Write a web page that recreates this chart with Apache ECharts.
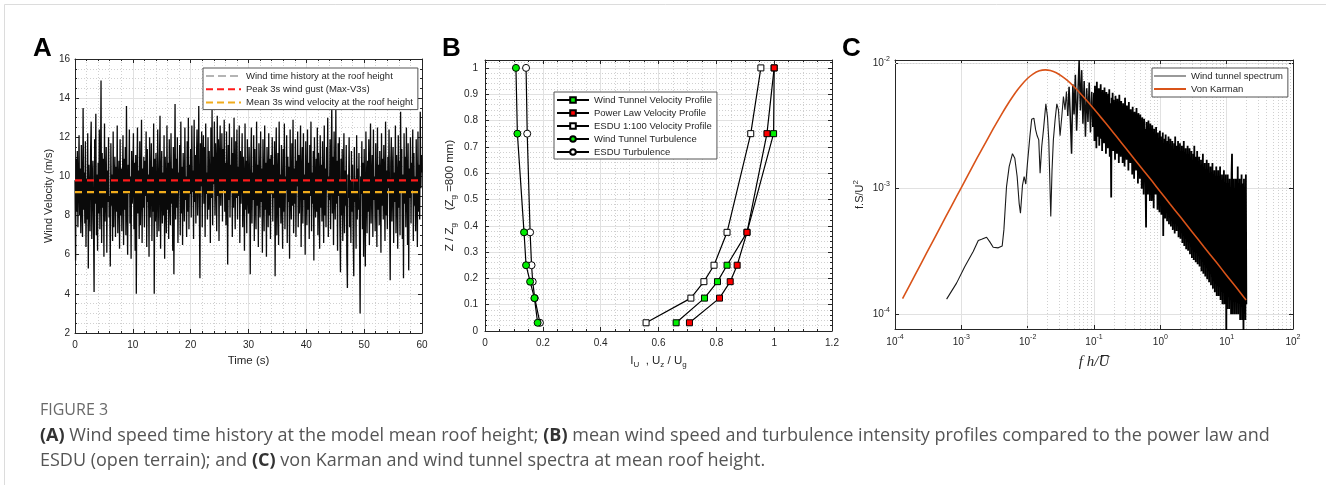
<!DOCTYPE html>
<html>
<head>
<meta charset="utf-8">
<script src="https://cdn.jsdelivr.net/npm/echarts@6/dist/echarts.min.js"></script>
<style>
  html, body { margin: 0; padding: 0; background: #fff; }
  #chart { width: 1326px; height: 485px; }
</style>
</head>
<body>
<div id="chart"></div>
<script>
// ---------- (A) wind time history at roof height ----------
const timeStep = 0.1; // seconds between samples
const windVelocity = [
  9.8, 5.7, 10.9, 8.2, 11.3, 7.4, 9.6, 12.1, 8.0, 10.4, 7.1, 11.6, 8.8, 6.9, 13.5, 8.3, 10.2, 7.6, 11.8, 6.4,
  9.9, 7.8, 12.2, 5.3, 10.6, 8.9, 7.2, 11.4, 12.8, 6.8, 9.7, 10.8, 7.5, 4.1, 11.9, 8.6, 13.2, 7.0, 10.1, 6.2,
  10.7, 8.1, 12.4, 7.3, 9.5, 14.9, 6.6, 11.2, 8.4, 10.9, 5.9, 12.7, 7.7, 9.2, 11.5, 6.1, 10.3, 8.7, 12.0, 7.9,
  9.0, 5.4, 11.7, 8.5, 10.1, 6.7, 12.3, 7.4, 9.8, 11.0, 6.9, 10.5, 8.2, 12.6, 7.1, 9.4, 10.8, 6.3, 11.9, 8.0,
  10.4, 7.2, 9.7, 12.1, 6.5, 10.9, 8.3, 11.5, 7.0, 13.6, 8.8, 6.0, 10.6, 9.1, 12.4, 7.6, 10.0, 5.8, 11.3, 8.6,
  9.5, 12.2, 7.3, 10.7, 6.2, 11.1, 4.0, 9.9, 12.5, 8.1, 10.3, 6.8, 11.8, 7.5, 9.3, 12.9, 6.6, 10.4, 8.4, 11.0,
  7.4, 10.8, 9.0, 12.3, 6.4, 11.4, 8.7, 10.1, 5.9, 12.0, 7.9, 9.6, 11.7, 6.7, 10.5, 8.2, 12.7, 4.0, 10.9, 7.7,
  11.2, 8.5, 6.9, 12.4, 9.4, 7.2, 10.6, 13.1, 6.3, 9.9, 11.3, 7.6, 10.2, 8.0, 12.1, 5.8, 11.0, 9.2, 7.1, 12.6,
  8.3, 10.7, 6.8, 11.9, 9.0, 7.5, 12.2, 8.6, 10.4, 6.2, 11.5, 5.0, 9.7, 13.7, 7.8, 10.9, 8.4, 12.0, 6.6, 10.2,
  9.3, 11.6, 7.0, 12.8, 8.1, 10.5, 6.5, 11.2, 9.6, 7.7, 12.5, 8.8, 10.0, 6.9, 11.8, 8.2, 13.0, 7.3, 10.6, 9.1,
  11.4, 7.9, 12.6, 9.2, 10.3, 6.8, 12.9, 8.7, 11.1, 7.6, 10.8, 12.4, 8.0, 9.9, 13.6, 8.4, 4.8, 11.7, 9.5, 12.3,
  7.4, 10.9, 12.1, 8.6, 11.5, 6.9, 12.7, 9.1, 10.2, 7.8, 12.0, 8.3, 11.3, 9.7, 6.6, 12.5, 8.9, 13.4, 7.5, 11.0,
  9.6, 12.8, 8.0, 11.7, 10.4, 7.2, 13.1, 9.0, 11.9, 6.7, 10.8, 12.6, 8.5, 10.0, 12.2, 7.7, 11.4, 9.3, 12.9, 8.2,
  10.7, 7.5, 12.3, 9.4, 5.5, 11.6, 8.8, 12.7, 7.9, 10.6, 9.2, 12.0, 6.9, 11.2, 8.4, 13.0, 9.7, 7.3, 11.8, 8.9,
  12.4, 7.8, 10.5, 9.0, 12.6, 6.6, 11.3, 8.6, 10.1, 12.2, 7.4, 11.0, 9.5, 6.2, 12.7, 8.3, 10.8, 7.1, 11.9, 9.2,
  8.1, 11.5, 9.6, 5.0, 10.9, 12.5, 7.6, 10.2, 8.8, 12.1, 6.7, 11.4, 9.0, 7.3, 12.8, 8.5, 10.6, 6.4, 11.7, 9.3,
  7.9, 12.3, 8.7, 10.4, 6.1, 11.9, 9.4, 7.2, 12.6, 8.3, 10.7, 5.9, 11.5, 9.8, 7.4, 12.2, 8.0, 10.9, 6.8, 11.1,
  9.1, 12.0, 7.7, 10.6, 8.9, 11.8, 4.9, 10.3, 12.5, 7.0, 9.7, 11.2, 6.5, 12.8, 8.4, 10.1, 7.6, 11.6, 9.0, 6.3,
  11.4, 8.2, 12.7, 7.3, 10.0, 9.3, 12.1, 6.6, 11.0, 8.7, 10.5, 5.8, 12.4, 9.1, 7.8, 11.7, 8.5, 12.9, 7.1, 10.4,
  8.6, 11.9, 6.9, 10.8, 9.5, 12.3, 7.4, 11.1, 8.1, 10.3, 12.6, 6.4, 9.8, 11.5, 7.6, 12.2, 8.8, 10.1, 6.0, 11.8,
  9.2, 7.5, 12.4, 8.3, 10.7, 6.8, 11.6, 9.0, 12.8, 7.2, 10.2, 8.6, 11.3, 5.7, 12.0, 9.4, 7.9, 10.9, 8.2, 12.5,
  7.0, 11.2, 9.7, 6.3, 12.1, 8.4, 10.6, 7.7, 11.8, 9.1, 6.6, 12.6, 8.0, 10.4, 7.4, 11.5, 9.3, 13.0, 6.9, 10.0,
  8.8, 11.9, 7.3, 10.5, 13.7, 8.1, 11.0, 6.5, 12.3, 9.2, 7.8, 13.4, 8.6, 10.8, 6.2, 11.7, 9.0, 12.0, 7.5, 5.1,
  10.9, 8.0, 11.4, 6.7, 9.6, 12.2, 7.1, 10.3, 8.5, 11.6, 6.0, 4.3, 10.1, 8.9, 12.0, 7.4, 9.8, 6.6, 11.3, 8.2,
  10.6, 7.0, 4.9, 11.5, 8.7, 9.9, 6.3, 12.1, 7.8, 10.4, 8.3, 11.2, 6.8, 3.0, 10.0, 9.1, 11.8, 7.3, 10.7, 5.9,
  11.4, 8.6, 5.4, 12.3, 9.4, 7.1, 10.8, 8.2, 11.9, 6.5, 10.2, 12.7, 7.6, 9.5, 11.1, 6.9, 12.4, 8.8, 10.0, 7.2,
  11.7, 9.0, 6.4, 12.5, 8.3, 10.6, 7.5, 11.3, 9.7, 6.1, 12.2, 8.5, 10.9, 7.8, 11.6, 9.3, 6.7, 12.8, 8.0, 10.3,
  7.3, 11.0, 9.4, 12.4, 8.1, 4.7, 10.7, 12.0, 7.7, 9.9, 11.5, 6.6, 10.2, 8.7, 12.6, 7.1, 11.1, 9.6, 6.3, 12.1,
  8.4, 10.8, 7.0, 13.3, 9.2, 11.4, 6.8, 10.1, 4.8, 12.2, 8.6, 11.0, 7.4, 12.5, 9.5, 6.5, 11.7, 5.2, 10.4, 8.9,
  12.0, 7.6, 10.7, 9.3, 12.4, 6.7, 11.2, 8.5, 10.0, 7.2, 11.9, 9.1, 6.4, 12.3, 8.2, 10.6, 7.8, 13.3, 9.4, 11.1,
  10.2
];
const peakGust3s = 9.8;      // m/s
const meanVelocity3s = 9.2;  // m/s

// ---------- (B) mean velocity and turbulence profiles ----------
const heightRatio      = [0.03125, 0.125, 0.1875, 0.25, 0.375, 0.75, 1.0];
const tunnelVelocity   = [0.661, 0.759, 0.804, 0.837, 0.906, 0.998, 1.0];
const powerLawVelocity = [0.707, 0.811, 0.848, 0.872, 0.906, 0.975, 1.0];
const esduVelocity     = [0.557, 0.712, 0.757, 0.792, 0.837, 0.919, 0.954];
const tunnelTurbulence = [0.182, 0.171, 0.156, 0.142, 0.135, 0.112, 0.107];
const esduTurbulence   = [0.190, 0.172, 0.165, 0.161, 0.156, 0.146, 0.142];

// ---------- (C) spectra ----------
const vonKarmanF = [1.3e-4, 2e-4, 3e-4, 5e-4, 7e-4, 1e-3, 1.5e-3, 2e-3, 3e-3, 4e-3, 5e-3, 6e-3, 7e-3, 8e-3,
  1e-2, 1.2e-2, 1.5e-2, 1.85e-2, 2.2e-2, 2.7e-2, 3.3e-2, 4e-2, 5e-2, 6e-2, 8e-2, 0.1, 0.13, 0.17, 0.22, 0.3,
  0.4, 0.55, 0.75, 1, 1.4, 2, 3, 4.5, 7, 10, 14, 19.6];
const vonKarmanS = [1.33e-4, 2.05e-4, 3.08e-4, 5.13e-4, 7.17e-4, 1.02e-3, 1.53e-3, 2.02e-3, 2.98e-3, 3.88e-3,
  4.71e-3, 5.45e-3, 6.11e-3, 6.68e-3, 7.58e-3, 8.19e-3, 8.69e-3, 8.85e-3, 8.74e-3, 8.39e-3, 7.85e-3, 7.25e-3,
  6.49e-3, 5.87e-3, 4.95e-3, 4.31e-3, 3.65e-3, 3.07e-3, 2.59e-3, 2.11e-3, 1.74e-3, 1.41e-3, 1.15e-3, 9.46e-4,
  7.56e-4, 5.97e-4, 4.55e-4, 3.47e-4, 2.59e-4, 2.04e-4, 1.63e-4, 1.30e-4];

// wind tunnel spectrum, low-frequency part (frequency / value pairs)
const spectrumLowF = [6.0e-4, 8.47e-4, 1.13e-3, 1.51e-3, 1.80e-3, 2.02e-3, 2.40e-3, 2.69e-3, 3.02e-3, 3.60e-3,
  4.13e-3, 4.38e-3, 4.80e-3, 5.26e-3, 5.90e-3, 6.40e-3, 6.94e-3, 7.44e-3, 7.79e-3, 8.36e-3, 8.85e-3, 9.37e-3,
  9.93e-3, 1.08e-2, 1.15e-2, 1.24e-2, 1.32e-2, 1.39e-2, 1.47e-2, 1.54e-2, 1.63e-2, 1.73e-2, 1.88e-2, 1.99e-2,
  2.08e-2, 2.23e-2, 2.33e-2, 2.44e-2, 2.59e-2, 2.75e-2, 2.91e-2, 3.08e-2, 3.27e-2, 3.46e-2, 3.66e-2, 3.84e-2,
  0.0401, 0.0421, 0.0440, 0.0459, 0.0480, 0.0501, 0.0524, 0.0547, 0.0571, 0.0597, 0.0624, 0.0652, 0.0681,
  0.0711, 0.0743, 0.0776, 0.0811, 0.0847, 0.0885, 0.0925, 0.0962];
const spectrumLowS = [1.32e-4, 1.77e-4, 2.40e-4, 3.16e-4, 3.87e-4, 3.96e-4, 4.11e-4, 3.77e-4, 3.42e-4, 3.38e-4,
  3.50e-4, 4.70e-4, 1.04e-3, 1.50e-3, 1.90e-3, 1.75e-3, 1.25e-3, 7.65e-4, 6.38e-4, 1.07e-3, 1.25e-3, 1.09e-3,
  1.60e-3, 2.61e-3, 3.58e-3, 3.65e-3, 2.94e-3, 2.64e-3, 2.45e-3, 1.33e-3, 2.17e-3, 2.94e-3, 4.74e-3, 3.72e-3,
  2.45e-3, 6.0e-4, 1.41e-3, 2.45e-3, 3.53e-3, 4.74e-3, 4.25e-3, 2.64e-3, 3.76e-3, 5.42e-3, 4.25e-3, 5.94e-3,
  0.0038, 0.0065, 0.0036, 0.0019, 0.0068, 0.0039, 0.0081, 0.0029, 0.0056, 0.0106, 0.0042, 0.0088, 0.0033,
  0.0072, 0.0026, 0.0063, 0.0034, 0.0070, 0.0028, 0.0059, 0.0031];

// wind tunnel spectrum, high-frequency part: log-spaced from 0.1 to 19.8
const spectrumHighRange = [0.1, 19.8];
const spectrumHighS = [
  0.0058, 0.0024, 0.0066, 0.0031, 0.0052, 0.0021, 0.0071, 0.0035, 0.0049, 0.0026, 0.0063, 0.0022, 0.0056, 0.0038, 0.0068, 0.0025, 0.0047, 0.0020, 0.0061, 0.0029,
  0.0054, 0.0023, 0.0064, 0.0032, 0.0050, 0.0019, 0.0059, 0.0036, 0.0045, 0.0021, 0.0057, 0.0027, 0.0062, 0.0018, 0.0048, 0.0030, 0.00085, 0.0053, 0.0024, 0.0058,
  0.0020, 0.0051, 0.0033, 0.0046, 0.0017, 0.0055, 0.0026, 0.0043, 0.0019, 0.0052, 0.0029, 0.0047, 0.0016, 0.0056, 0.0034, 0.0041, 0.0018, 0.0050, 0.0023, 0.0045,
  0.0016, 0.0048, 0.0031, 0.0042, 0.0015, 0.0053, 0.0025, 0.0039, 0.0017, 0.0046, 0.0028, 0.0044, 0.0014, 0.0049, 0.0021, 0.0037, 0.0016, 0.0043, 0.0027, 0.0040,
  0.0013, 0.0045, 0.0022, 0.0038, 0.0012, 0.0041, 0.0026, 0.0035, 0.0014, 0.0044, 0.0019, 0.0036, 0.0011, 0.0040, 0.0024, 0.0033, 0.0012, 0.0039, 0.0018, 0.0035,
  0.0010, 0.0037, 0.0021, 0.0032, 0.0009, 0.0036, 0.0016, 0.0030, 0.0011, 0.00049, 0.0034, 0.0019, 0.0031, 0.0009, 0.0035, 0.0014, 0.0028, 0.0008, 0.0033, 0.0017,
  0.0029, 0.0008, 0.0032, 0.0015, 0.0027, 0.0007, 0.0030, 0.0012, 0.0026, 0.0009, 0.0031, 0.0014, 0.0025, 0.00068, 0.0028, 0.0011, 0.0024, 0.00065, 0.0029, 0.0013,
  0.0026, 0.00062, 0.0023, 0.0010, 0.0028, 0.00042, 0.0021, 0.0009, 0.0025, 0.00058, 0.0027, 0.0011, 0.0020, 0.00055, 0.0024, 0.0008, 0.0026, 0.00052, 0.0022, 0.0010,
  0.0025, 0.00050, 0.0021, 0.0009, 0.0024, 0.00047, 0.0019, 0.0008, 0.0023, 0.00044, 0.0026, 0.0010, 0.0020, 0.00046, 0.0022, 0.0007, 0.0024, 0.00041, 0.0018, 0.0009,
  0.0023, 0.00040, 0.0020, 0.0008, 0.0022, 0.00037, 0.0017, 0.0007, 0.0024, 0.00035, 0.0019, 0.0009, 0.0021, 0.00033, 0.0016, 0.0006, 0.0022, 0.00032, 0.0018, 0.0008,
  0.0021, 0.00030, 0.0017, 0.0007, 0.0020, 0.00028, 0.0015, 0.0006, 0.0019, 0.00027, 0.0022, 0.0008, 0.0016, 0.00026, 0.0018, 0.0005, 0.0020, 0.00025, 0.0014, 0.0007,
  0.0018, 0.00024, 0.0015, 0.0006, 0.0017, 0.00022, 0.0013, 0.0005, 0.0019, 0.00021, 0.0014, 0.0007, 0.0016, 0.00020, 0.0012, 0.00045, 0.0017, 0.00019, 0.0013, 0.0006,
  0.0016, 0.00018, 0.0013, 0.0005, 0.0015, 0.00017, 0.0011, 0.00042, 0.0016, 0.00016, 0.0012, 0.0006, 0.0014, 0.00015, 0.0010, 0.00038, 0.0015, 0.00014, 0.0012, 0.0005,
  0.0014, 0.00014, 0.0011, 0.00045, 0.0015, 0.00013, 0.0010, 0.00036, 0.0013, 0.00012, 0.0011, 0.0005, 0.0014, 0.00012, 0.0009, 0.00034, 0.0013, 0.00006, 0.0011, 0.00011,
  0.0013, 0.00040, 0.0011, 0.00011, 0.0012, 0.00032, 0.0010, 0.00010, 0.0013, 0.0019, 0.00010, 0.0011, 0.00035, 0.0012, 0.00010, 0.0009, 0.00030, 0.0012, 0.00010, 0.0010,
  0.00038, 0.0015, 0.00010, 0.0011, 0.00033, 0.0012, 0.00009, 0.0010, 0.00036, 0.0013, 0.00009, 0.0011, 0.00030, 0.00007, 0.0012, 0.00028, 0.0010, 0.00009, 0.0013, 0.00012
];

// ---------- styling helpers ----------
const AX = '#262626';
const FONT = '"Liberation Sans", Arial, Helvetica, sans-serif';
const MAJOR_GRID = { show: true, lineStyle: { color: '#e1e1e1', width: 1 } };
const MINOR_GRID = { show: true, lineStyle: { color: '#d0d0d0', width: 1, type: [1, 2] } };

function axisBase(o) {
  const a = {
    gridIndex: o.grid, position: o.pos, min: o.min, max: o.max,
    axisLine: { show: true, onZero: false, lineStyle: { color: AX, width: 1 } },
    axisTick: { show: true, inside: true, length: 4, lineStyle: { color: AX } },
    axisLabel: { show: !!o.labels, color: AX, fontSize: 10, fontFamily: FONT, margin: o.margin || 6 },
    splitLine: o.labels ? MAJOR_GRID : { show: false }
  };
  if (o.formatter) a.axisLabel.formatter = o.formatter;
  if (o.rich) { a.axisLabel.rich = o.rich; a.axisLabel.lineHeight = 16; }
  if (o.name) {
    a.name = o.name;
    a.nameLocation = 'middle';
    a.nameGap = o.nameGap;
    a.nameTextStyle = Object.assign({ color: AX, fontSize: 11, fontFamily: FONT }, o.nameStyle || {});
  }
  return a;
}
function valueAxis(o) {
  return Object.assign(axisBase(o), {
    type: 'value', interval: o.interval,
    minorTick: { show: true, splitNumber: o.minor, length: 2, lineStyle: { color: AX } },
    minorSplitLine: o.labels ? MINOR_GRID : { show: false }
  });
}
function powerLabel(v) {
  const e = Math.round(Math.log10(v));
  return Math.abs(v / Math.pow(10, e) - 1) < 0.02 ? '10{sup|' + e + '}' : '';
}
const SUP = { sup: { fontSize: 7, verticalAlign: 'top', color: AX, fontFamily: FONT } };
function logAxis(o) {
  return Object.assign(axisBase(Object.assign({ formatter: powerLabel, rich: SUP }, o)), {
    type: 'log', logBase: 10
  });
}

// ---------- series data ----------
const windData = windVelocity.map((v, i) => [+(i * timeStep).toFixed(1), v]);
const tEnd = (windVelocity.length - 1) * timeStep;
const pairs = (xs, ys) => xs.map((x, i) => [x, ys[i]]);
const highF = spectrumHighS.map((_, i) =>
  spectrumHighRange[0] * Math.pow(spectrumHighRange[1] / spectrumHighRange[0], i / (spectrumHighS.length - 1)));
const spectrumLowAll = pairs(spectrumLowF, spectrumLowS);
// the trace gets denser above ~0.04, so it is drawn in three overlapping stretches
const splitAt = spectrumLowF.findIndex(f => f >= 0.04);
const spectrumLowData = spectrumLowAll.slice(0, splitAt + 1);
const spectrumMidData = spectrumLowAll.slice(splitAt);
const spectrumHighData = spectrumLowAll.slice(-1).concat(pairs(highF, spectrumHighS));

// minor log grid positions for panel C
const cX = [1e-4, 1e2], cY = [7.63e-5, 0.0106];
const minorLogX = [], minorLogY = [];
for (let e = -4; e < 2; e++) for (let m = 2; m < 10; m++) minorLogX.push(m * Math.pow(10, e));
for (let e = -5; e < -1; e++) for (let m = 2; m < 10; m++) {
  const v = m * Math.pow(10, e);
  if (v > cY[0] && v < cY[1]) minorLogY.push(v);
}

// line-only series keep an invisible symbol style so legends show just the line
const NO_MARK = { opacity: 0 };

const velStyle = (fill) => ({
  type: 'line', xAxisIndex: 2, yAxisIndex: 2, symbol: 'rect', symbolSize: 6, showSymbol: true,
  itemStyle: { color: fill, borderColor: '#000', borderWidth: 1 },
  lineStyle: { color: '#000', width: 1.2 }, z: 3
});
const turbStyle = (fill, z) => ({
  type: 'line', xAxisIndex: 2, yAxisIndex: 2, symbol: 'circle', symbolSize: 7, showSymbol: true,
  itemStyle: { color: fill, borderColor: '#000', borderWidth: 1 },
  lineStyle: { color: '#000', width: 1.2 }, z: z
});

const legendBase = {
  orient: 'vertical', backgroundColor: '#fff', borderColor: '#555', borderWidth: 1,
  itemHeight: 7, itemGap: 3.3, selectedMode: false,
  textStyle: { color: AX, fontSize: 9.5, fontFamily: FONT, lineHeight: 10 }
};
const CAPTION_FONT = '"Open Sans", sans-serif';
const captionRich = { b: { fontWeight: 'bold', fill: '#333', fontSize: 18, fontFamily: CAPTION_FONT } };

const option = {
  animation: false,
  backgroundColor: '#fff',
  grid: [
    { left: 75, top: 59, width: 347, height: 274 },
    { left: 485, top: 60, width: 347, height: 271 },
    { left: 895, top: 60, width: 398, height: 269 }
  ],
  xAxis: [
    valueAxis({ grid: 0, pos: 'bottom', min: 0, max: 60, interval: 10, minor: 5, labels: true, margin: 7,
      name: 'Time (s)', nameGap: 20, nameStyle: { fontSize: 11.5 } }),
    valueAxis({ grid: 0, pos: 'top', min: 0, max: 60, interval: 10, minor: 5 }),
    valueAxis({ grid: 1, pos: 'bottom', min: 0, max: 1.2, interval: 0.2, minor: 4, labels: true, margin: 7,
      name: 'I{sub|U}  , U{sub|z} / U{sub|g}', nameGap: 19,
      nameStyle: { fontSize: 11.5, lineHeight: 16, rich: { sub: { fontSize: 8, verticalAlign: 'bottom', color: AX, fontFamily: FONT } } } }),
    valueAxis({ grid: 1, pos: 'top', min: 0, max: 1.2, interval: 0.2, minor: 4 }),
    logAxis({ grid: 2, pos: 'bottom', min: cX[0], max: cX[1], labels: true, margin: 5,
      name: 'f h/U\u0305', nameGap: 15,
      nameStyle: { fontSize: 15, fontFamily: '"Liberation Serif", "DejaVu Serif", serif', fontStyle: 'italic' } }),
    logAxis({ grid: 2, pos: 'top', min: cX[0], max: cX[1] })
  ],
  yAxis: [
    valueAxis({ grid: 0, pos: 'left', min: 2, max: 16, interval: 2, minor: 4, labels: true, margin: 5,
      name: 'Wind Velocity (m/s)', nameGap: 21 }),
    valueAxis({ grid: 0, pos: 'right', min: 2, max: 16, interval: 2, minor: 4 }),
    valueAxis({ grid: 1, pos: 'left', min: 0, max: 1.03, interval: 0.1, minor: 5, labels: true, margin: 7,
      formatter: v => (v > 1.0001 ? '' : String(+v.toFixed(1))),
      name: 'Z / Z{sub|g}    (Z{sub|g} =800 mm)', nameGap: 27,
      nameStyle: { fontSize: 11.5, lineHeight: 16, rich: { sub: { fontSize: 8, verticalAlign: 'bottom', color: AX, fontFamily: FONT } } } }),
    valueAxis({ grid: 1, pos: 'right', min: 0, max: 1.03, interval: 0.1, minor: 5 }),
    logAxis({ grid: 2, pos: 'left', min: cY[0], max: cY[1], labels: true, margin: 5,
      name: 'f.S/U{sup|2}', nameGap: 27,
      nameStyle: { fontSize: 11, lineHeight: 16, rich: { sup: { fontSize: 8, verticalAlign: 'top', color: AX, fontFamily: FONT } } } }),
    logAxis({ grid: 2, pos: 'right', min: cY[0], max: cY[1] })
  ],
  legend: [
    Object.assign({}, legendBase, {
      left: 203, top: 68, itemWidth: 35, padding: [3, 5, 2, 2],
      data: [
        { name: 'Wind time history at the roof height', lineStyle: { color: '#6a6a6a', type: [8, 4], width: 1.2 } },
        { name: 'Peak 3s wind gust (Max-V3s)', lineStyle: { type: [7, 4] } },
        { name: 'Mean 3s wind velocity at the roof height', lineStyle: { type: [7, 4] } }
      ]
    }),
    Object.assign({}, legendBase, {
      left: 554, top: 92, itemWidth: 32, padding: [3, 5, 2, 2], itemGap: 3,
      data: ['Wind Tunnel Velocity Profile', 'Power Law Velocity Profile', 'ESDU 1:100 Velocity Profile',
        'Wind Tunnel Turbulence', 'ESDU Turbulence']
    }),
    Object.assign({}, legendBase, {
      left: 1152, top: 68, itemWidth: 32, padding: [3, 5, 3, 1], itemGap: 3,
      data: [{ name: 'Wind tunnel spectrum', lineStyle: { color: '#555', width: 1.2 } }, 'Von Karman']
    })
  ],
  series: [
    // (A)
    { name: 'Wind time history at the roof height', type: 'line', xAxisIndex: 0, yAxisIndex: 0,
      data: windData, symbol: 'none', sampling: null, itemStyle: NO_MARK,
      lineStyle: { color: '#0a0a0a', width: 1.3 }, z: 2 },
    { name: 'Peak 3s wind gust (Max-V3s)', type: 'line', xAxisIndex: 0, yAxisIndex: 0,
      data: [[0, peakGust3s], [tEnd, peakGust3s]], symbol: 'none', itemStyle: NO_MARK,
      lineStyle: { color: '#ff1a1a', width: 2.2, type: [7, 5] }, z: 3 },
    { name: 'Mean 3s wind velocity at the roof height', type: 'line', xAxisIndex: 0, yAxisIndex: 0,
      data: [[0, meanVelocity3s], [tEnd, meanVelocity3s]], symbol: 'none', itemStyle: NO_MARK,
      lineStyle: { color: '#f0ac1c', width: 2.2, type: [7, 5] }, z: 3 },
    // (B)
    Object.assign({ name: 'Wind Tunnel Velocity Profile', data: pairs(tunnelVelocity, heightRatio) }, velStyle('#00ee00')),
    Object.assign({ name: 'Power Law Velocity Profile', data: pairs(powerLawVelocity, heightRatio) }, velStyle('#ff0000')),
    Object.assign({ name: 'ESDU 1:100 Velocity Profile', data: pairs(esduVelocity, heightRatio) }, velStyle('#ffffff')),
    Object.assign({ name: 'ESDU Turbulence', data: pairs(esduTurbulence, heightRatio) }, turbStyle('#ffffff', 3)),
    Object.assign({ name: 'Wind Tunnel Turbulence', data: pairs(tunnelTurbulence, heightRatio) }, turbStyle('#00ee00', 4)),
    // (C)
    { name: 'Wind tunnel spectrum', type: 'line', xAxisIndex: 4, yAxisIndex: 4, data: spectrumLowData,
      symbol: 'none', sampling: null, itemStyle: NO_MARK, lineStyle: { color: '#1a1a1a', width: 1.1 }, z: 2 },
    { type: 'line', xAxisIndex: 4, yAxisIndex: 4, data: spectrumMidData, silent: true,
      symbol: 'none', sampling: null, itemStyle: NO_MARK, lineStyle: { color: '#0d0d0d', width: 1.5 }, z: 2 },
    { type: 'line', xAxisIndex: 4, yAxisIndex: 4, data: spectrumHighData, silent: true,
      symbol: 'none', sampling: null, itemStyle: NO_MARK, lineStyle: { color: '#000', width: 1.8 }, z: 2 },
    { name: 'Von Karman', type: 'line', xAxisIndex: 4, yAxisIndex: 4, data: pairs(vonKarmanF, vonKarmanS),
      symbol: 'none', smooth: 0.3, itemStyle: NO_MARK, lineStyle: { color: '#D95319', width: 1.6 }, z: 3,
      markLine: {
        silent: true, z: 1, symbol: 'none', label: { show: false },
        lineStyle: { color: '#d0d0d0', width: 1, type: [1, 2] },
        data: minorLogX.map(v => ({ xAxis: v })).concat(minorLogY.map(v => ({ yAxis: v })))
      } }
  ],
  graphic: [
    { type: 'rect', silent: true, shape: { x: 4.5, y: 4.5, width: 1400, height: 600 },
      style: { fill: 'none', stroke: '#dcdcdc', lineWidth: 1 } },
    { type: 'text', left: 33, top: 36, style: { text: 'A', font: 'bold 26px "Liberation Sans", Arial, sans-serif', fill: '#000' } },
    { type: 'text', left: 442, top: 36, style: { text: 'B', font: 'bold 26px "Liberation Sans", Arial, sans-serif', fill: '#000' } },
    { type: 'text', left: 842, top: 36, style: { text: 'C', font: 'bold 26px "Liberation Sans", Arial, sans-serif', fill: '#000' } },
    { type: 'text', left: 40, top: 402, style: { text: 'FIGURE 3', font: '16px ' + CAPTION_FONT, fill: '#6a6a6a' } },
    { type: 'text', left: 40, top: 427, style: {
        text: '{b|(A)} Wind speed time history at the model mean roof height; {b|(B)} mean wind speed and turbulence intensity profiles compared to the power law and',
        font: '18px ' + CAPTION_FONT, fill: '#555', rich: captionRich } },
    { type: 'text', left: 40, top: 452, style: {
        text: 'ESDU (open terrain); and {b|(C)} von Karman and wind tunnel spectra at mean roof height.',
        font: '18px ' + CAPTION_FONT, fill: '#555', rich: captionRich } }
  ]
};

const chart = echarts.init(document.getElementById('chart'), null, { renderer: 'canvas' });
chart.setOption(option);
</script>
</body>
</html>
